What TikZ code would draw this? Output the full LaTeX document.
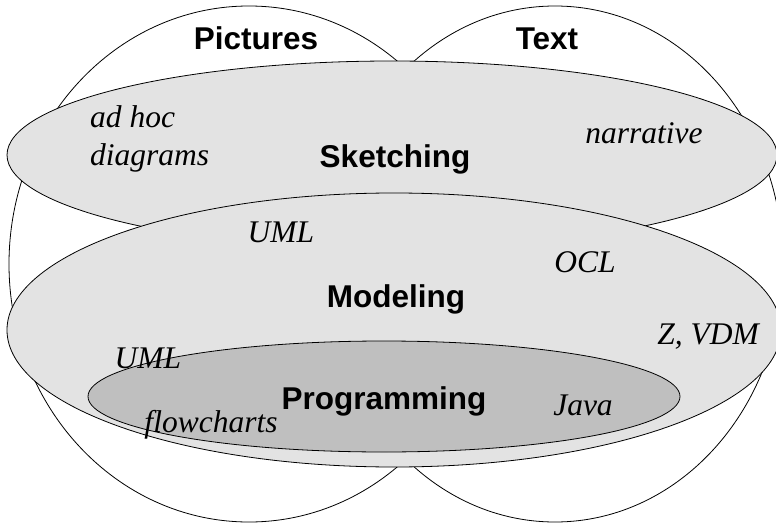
\documentclass[tikz,border=0pt]{standalone}
\usepackage{fontspec}
\setmainfont{Liberation Serif}
\setsansfont{Liberation Sans}
\usepackage{tikz}

\definecolor{lightfill}{gray}{0.89}
\definecolor{darkfill}{gray}{0.75}

\tikzset{
	area/.style={draw=black, line width=0.8pt},
	heading/.style={font=\sffamily\bfseries\fontsize{31.5}{37}\selectfont, anchor=base, inner sep=0pt},
	notation/.style={font=\itshape\fontsize{31.5}{37}\selectfont, anchor=base, inner sep=0pt}
}

\begin{document}
\begin{tikzpicture}[x=1pt, y=-1pt]
% fix page size and clip at the edges
	\useasboundingbox (0,0) rectangle (776,524);
	\clip (0,0) rectangle (776,524);
% draw the two big circles
	\draw[area] (249,264) ellipse [x radius=240pt, y radius=258pt];
	\draw[area] (555,264) ellipse [x radius=228pt, y radius=258pt];
% draw the three layers
	\draw[area, fill=lightfill] (392,155) ellipse [x radius=385pt, y radius=94pt];
	\draw[area, fill=lightfill] (394,330) ellipse [x radius=387pt, y radius=137pt];
	\draw[area, fill=darkfill] (384,396.5) ellipse [x radius=296pt, y radius=55.5pt];
% circle titles
	\node[heading] (pictures) at (256,50) {Pictures};
	\node[heading] (text) at (547,50) {Text};
% layer titles
	\node[heading] (sketching) at (395,167) {Sketching};
	\node[heading] (modeling) at (396,307) {Modeling};
	\node[heading] (programming) at (384,409) {Programming};
% notations
	\node[notation, anchor=base west] (adhoc) at (90,128) {ad hoc};
	\node[notation, anchor=base west] (diagrams) at (90,165) {diagrams};
	\node[notation] (narrative) at (644,143) {narrative};
	\node[notation] (umltop) at (281,242) {UML};
	\node[notation] (ocl) at (585,272) {OCL};
	\node[notation] (zvdm) at (708,344) {Z, VDM};
	\node[notation] (umlbottom) at (148,368) {UML};
	\node[notation] (flowcharts) at (211,432) {flowcharts};
	\node[notation] (java) at (583,415) {Java};
\end{tikzpicture}
\end{document}
